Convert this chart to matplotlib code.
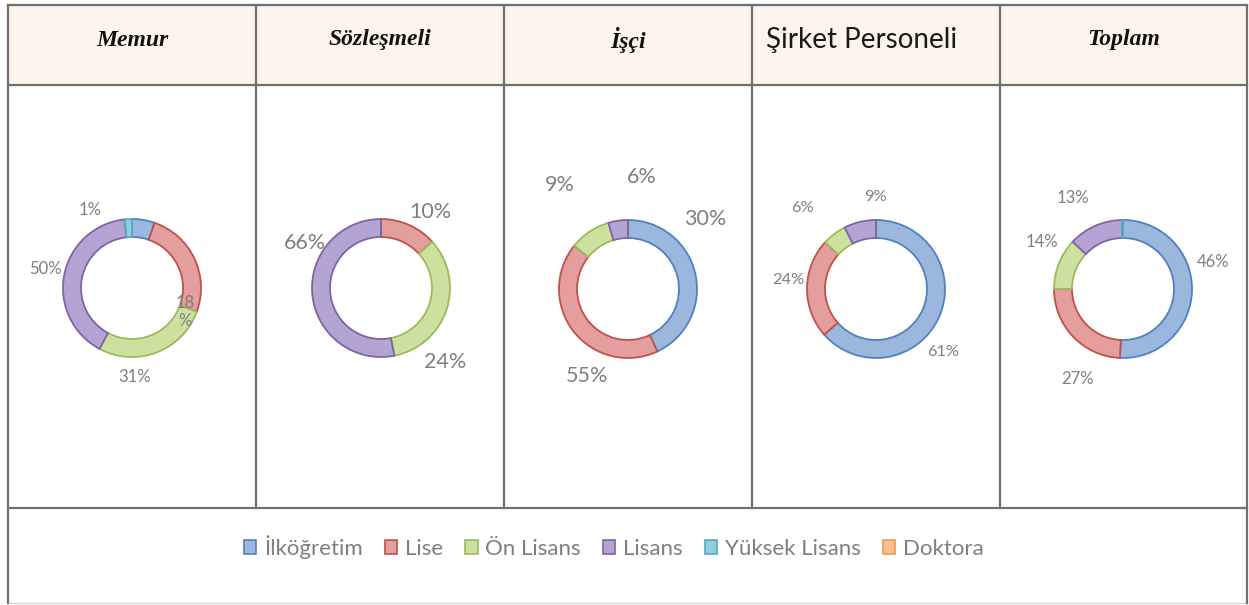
import matplotlib.pyplot as plt
from matplotlib.patches import Rectangle, Patch

W, H = 1249, 605

# education levels (legend order)
levels = ["İlköğretim", "Lise", "Ön Lisans", "Lisans", "Yüksek Lisans", "Doktora"]
fills = ["#9BB7DE", "#E49E9D", "#CDE09F", "#B3A4D3", "#93CDDD", "#FAC090"]
edges = ["#4F81BD", "#C0504D", "#9BBB59", "#8064A2", "#4BACC6", "#F79646"]

# personnel groups
groups = ["Memur", "Sözleşmeli", "İşçi", "Şirket Personeli", "Toplam"]

# slice sizes as drawn in the picture (İlköğretim ... Doktora)
memur = [5.3, 25.3, 27.2, 40.5, 1.7, 0]
sozlesmeli = [0, 13.3, 33.6, 53.1, 0, 0]
isci = [43.0, 42.8, 9.6, 4.6, 0, 0]
sirket = [63.5, 23.3, 5.7, 7.5, 0, 0]
toplam = [50.7, 24.3, 12.0, 12.8, 0.2, 0]
shares = [memur, sozlesmeli, isci, sirket, toplam]

# data label texts as printed
memur_labels = ["1%", "50%", "18\n%", "31%"]
sozlesmeli_labels = ["10%", "66%", "24%"]
isci_labels = ["9%", "6%", "30%", "55%"]
sirket_labels = ["9%", "6%", "24%", "61%"]
toplam_labels = ["13%", "14%", "46%", "27%"]
labels = [memur_labels, sozlesmeli_labels, isci_labels, sirket_labels, toplam_labels]

# layout (pixels, top-left origin)
col_x = [8, 256, 504, 752, 1000, 1247]
top_y, head_y, leg_y, bot_y = 5, 85, 508, 603
centers = [(132, 288), (381, 288), (628, 289), (876, 289), (1123, 289)]
radius = 69
ring = 18
label_pos = [
    [(90, 210), (45, 269), (185, 312), (135, 377)],
    [(430, 212), (305, 243), (445, 362)],
    [(560, 185), (642, 177), (705, 219), (587, 376)],
    [(875, 197), (802, 208), (788, 280), (943, 352)],
    [(1073, 198), (1042, 242), (1213, 262), (1078, 379)],
]
label_size = [12, 15.5, 15.5, 11.8, 12]


def Y(y):
    return H - y


fig = plt.figure(figsize=(W / 100, H / 100), dpi=100)
ax = fig.add_axes([0, 0, 1, 1])

# table: header fill and grid lines
ax.add_patch(Rectangle((col_x[0], Y(head_y)), col_x[-1] - col_x[0], head_y - top_y,
                       facecolor="#FDF5EB", edgecolor="none", zorder=0))
line = dict(color="#707070", lw=1.6, zorder=3)
for y in [top_y, head_y, leg_y]:
    ax.plot([col_x[0], col_x[-1]], [Y(y), Y(y)], **line)
ax.plot([col_x[0], col_x[-1]], [Y(bot_y), Y(bot_y)], color="#D8D8D8", lw=1, zorder=3)
for i, x in enumerate(col_x):
    y_end = bot_y if i in (0, len(col_x) - 1) else leg_y
    ax.plot([x, x], [Y(top_y), Y(y_end)], **line)

# header texts
serif_head = dict(family="Liberation Serif", fontweight="bold", fontstyle="italic", fontsize=17)
for i, g in enumerate(groups):
    cx = (col_x[i] + col_x[i + 1]) / 2
    if g == "Şirket Personeli":
        ax.text(cx - 14, Y(40), g, ha="center", va="center", family="Lato", fontsize=20, color="#1A1A1A")
    else:
        ax.text(cx, Y(40), g, ha="center", va="center", color="#111111", **serif_head)

# donuts
for i, vals in enumerate(shares):
    keep = [k for k, v in enumerate(vals) if v > 0]
    ax.pie([vals[k] for k in keep], colors=[fills[k] for k in keep], startangle=90,
           counterclock=False, center=(centers[i][0], Y(centers[i][1])), radius=radius,
           wedgeprops=dict(width=ring, edgecolor=None, linewidth=1.3), frame=True)
    wedges = ax.patches[-len(keep):]
    for w, k in zip(wedges, keep):
        w.set_edgecolor(edges[k])
    for txt, (x, y) in zip(labels[i], label_pos[i]):
        ax.text(x, Y(y), txt, ha="center", va="center", family="Lato",
                fontsize=label_size[i], color="#7F7F7F", linespacing=1.1)

ax.set_xlim(0, W)
ax.set_ylim(0, H)
ax.set_aspect("auto")
ax.axis("off")

# legend
handles = [Patch(facecolor=f, edgecolor=e, linewidth=1.2) for f, e in zip(fills, edges)]
fig.legend(handles, levels, loc="center", bbox_to_anchor=(614 / W, 1 - 547 / H), ncol=6,
           frameon=False, prop=dict(family="Lato", size=16), labelcolor="#7F7F7F",
           handlelength=0.55, handleheight=0.55, handletextpad=0.35, columnspacing=1.0)

fig.savefig("out.png", dpi=100, facecolor="white")
